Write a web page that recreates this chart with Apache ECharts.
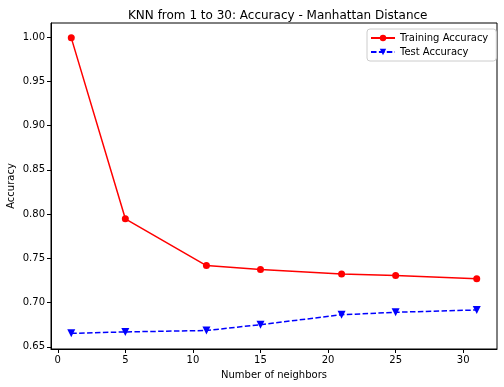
<!DOCTYPE html>
<html><head><meta charset="utf-8">
<script src="https://cdn.jsdelivr.net/npm/echarts@6/dist/echarts.min.js"></script>
<style>html,body{margin:0;padding:0;background:#fff}#c{width:504px;height:387px}</style>
</head><body><div id="c"></div>
<script>
const neighbors = [1, 5, 11, 15, 21, 25, 31];
const trainAcc = [0.999, 0.7946, 0.7418, 0.7372, 0.7322, 0.7305, 0.7268];
const testAcc = [0.6652, 0.6668, 0.6684, 0.6750, 0.6862, 0.6890, 0.6916];
const xTicks = [0, 5, 10, 15, 20, 25, 30];
const yTicks = [0.65, 0.70, 0.75, 0.80, 0.85, 0.90, 0.95, 1.00];

const font = 'DejaVu Sans';
const chart = echarts.init(document.getElementById('c'), null, {renderer: 'canvas'});
chart.setOption({
  animation: false,
  backgroundColor: '#fff',
  title: {text: 'KNN from 1 to 30: Accuracy - Manhattan Distance', left: 123, top: 5,
    textStyle: {fontFamily: font, fontSize: 12, fontWeight: 'normal', color: '#000'}},
  grid: {left: 51, right: 7, top: 23, bottom: 38, show: true, borderColor: '#000', borderWidth: 1,
    backgroundColor: 'transparent', containLabel: false, outerBoundsMode: 'none'},
  legend: {
    orient: 'vertical', left: 367, top: 29, padding: [4, 8, 4, 3], itemGap: 4,
    borderColor: '#ccc', borderWidth: 1, borderRadius: 3, backgroundColor: '#fff',
    itemWidth: 24, itemHeight: 8,
    textStyle: {fontFamily: font, fontSize: 10, color: '#000'},
    data: ['Training Accuracy', 'Test Accuracy']
  },
  xAxis: {
    type: 'value', min: -0.5, max: 32.5,
    name: 'Number of neighbors', nameLocation: 'middle', nameGap: 21, nameMoveOverlap: false,
    nameTextStyle: {fontFamily: font, fontSize: 10, color: '#000'},
    axisLine: {show: true, onZero: false, lineStyle: {color: '#000', width: 1}},
    axisTick: {show: true, inside: false, length: 4, customValues: xTicks, lineStyle: {color: '#000'}},
    axisLabel: {customValues: xTicks, fontFamily: font, fontSize: 10, color: '#000', margin: 6},
    splitLine: {show: false}
  },
  yAxis: {
    type: 'value', min: 0.6475, max: 1.0158,
    name: 'Accuracy', nameLocation: 'middle', nameGap: 35, nameRotate: 90, nameMoveOverlap: false,
    nameTextStyle: {fontFamily: font, fontSize: 10, color: '#000'},
    axisLine: {show: true, onZero: false, lineStyle: {color: '#000', width: 1}},
    axisTick: {show: true, inside: false, length: 4, customValues: yTicks, lineStyle: {color: '#000'}},
    axisLabel: {customValues: yTicks, fontFamily: font, fontSize: 10, color: '#000', margin: 6,
      formatter: v => v.toFixed(2)},
    splitLine: {show: false}
  },
  series: [
    {name: 'Training Accuracy', type: 'line', data: neighbors.map((n, i) => [n, trainAcc[i]]),
      symbol: 'circle', symbolSize: 7, color: '#ff0000',
      lineStyle: {color: '#ff0000', width: 1.5}, itemStyle: {color: '#ff0000'}},
    {name: 'Test Accuracy', type: 'line', data: neighbors.map((n, i) => [n, testAcc[i]]),
      symbol: 'triangle', symbolRotate: 180, symbolSize: 8, color: '#0000ff',
      lineStyle: {color: '#0000ff', width: 1.5, type: [5.5, 2.4]}, itemStyle: {color: '#0000ff'}}
  ]
});
</script></body></html>
